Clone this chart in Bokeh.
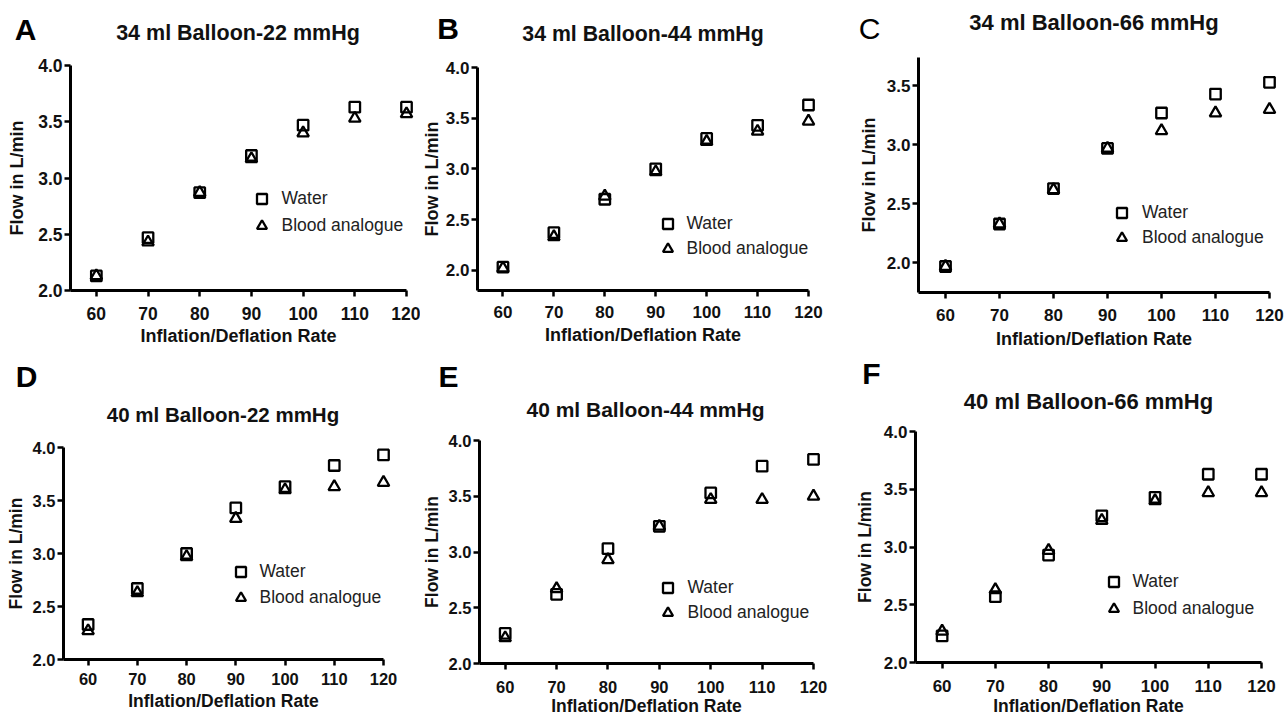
from bokeh.plotting import figure
from bokeh.layouts import row, column
from bokeh.models import Range1d, FixedTicker, PrintfTickFormatter, Label, Legend, LegendItem
from bokeh.embed import file_html
from bokeh.resources import INLINE

# ---------------- data ----------------
rates = [60, 70, 80, 90, 100, 110, 120]
x_ticks = [60, 70, 80, 90, 100, 110, 120]

titles = ["34 ml Balloon-22 mmHg", "34 ml Balloon-44 mmHg", "34 ml Balloon-66 mmHg",
          "40 ml Balloon-22 mmHg", "40 ml Balloon-44 mmHg", "40 ml Balloon-66 mmHg"]
letters = ["A", "B", "C", "D", "E", "F"]
series_names = ["Water", "Blood analogue"]
x_title = "Inflation/Deflation Rate"
y_title = "Flow in L/min"

A_water = [2.13, 2.47, 2.87, 3.20, 3.47, 3.63, 3.63]
A_blood = [2.13, 2.43, 2.87, 3.17, 3.40, 3.53, 3.57]
B_water = [2.03, 2.37, 2.70, 3.00, 3.30, 3.43, 3.63]
B_blood = [2.02, 2.33, 2.73, 2.97, 3.27, 3.37, 3.47]
C_water = [1.97, 2.33, 2.63, 2.97, 3.27, 3.43, 3.53]
C_blood = [1.97, 2.33, 2.62, 2.97, 3.12, 3.27, 3.30]
D_water = [2.33, 2.67, 3.00, 3.43, 3.63, 3.83, 3.93]
D_blood = [2.27, 2.63, 2.97, 3.33, 3.60, 3.63, 3.67]
E_water = [2.27, 2.62, 3.03, 3.23, 3.53, 3.77, 3.83]
E_blood = [2.23, 2.67, 2.93, 3.23, 3.47, 3.47, 3.50]
F_water = [2.23, 2.57, 2.93, 3.27, 3.43, 3.63, 3.63]
F_blood = [2.27, 2.63, 2.97, 3.23, 3.40, 3.47, 3.47]

y_ticks_A = [2.0, 2.5, 3.0, 3.5, 4.0]
y_ticks_B = [2.0, 2.5, 3.0, 3.5, 4.0]
y_ticks_C = [2.0, 2.5, 3.0, 3.5]
y_ticks_D = [2.0, 2.5, 3.0, 3.5, 4.0]
y_ticks_E = [2.0, 2.5, 3.0, 3.5, 4.0]
y_ticks_F = [2.0, 2.5, 3.0, 3.5, 4.0]

waters = [A_water, B_water, C_water, D_water, E_water, F_water]
bloods = [A_blood, B_blood, C_blood, D_blood, E_blood, F_blood]
yticks = [y_ticks_A, y_ticks_B, y_ticks_C, y_ticks_D, y_ticks_E, y_ticks_F]

# ---------------- layout / style ----------------
FONT = "Liberation Sans"
X0, X1 = 55, 120                       # extent of the drawn x axis
y_axis_ext = [(2.0, 4.0), (1.8, 4.0), (1.75, 3.74), (2.0, 4.0), (2.0, 4.0), (2.0, 4.0)]
cols = [(0, 420), (420, 855), (855, 1286)]
rows_px = [(0, 352), (352, 714)]
# axes in page pixels: x of y-axis (x=55), x of 120, y of axis top, y of x-axis
frames = [(70, 406, 65, 290), (477, 808, 67, 290), (918, 1269, 57, 292),
          (63, 383, 447, 659), (479, 813, 440, 663), (915, 1261, 431, 662)]
ylab_standoff = [8, 1, 5, 4, 4, 6]
xtick_standoff = [10, 9, 10, 7, 11, 11]
xlab_standoff = [3, 4, 5, 3, 0, 1]
tick_font = ["17.5px", "17px", "17px", "16.5px", "16.5px", "17px"]
axis_font = ["18px", "18px", "18px", "17.5px", "17.5px", "17.5px"]
title_font = ["21.5px", "21.3px", "22px", "20.5px", "21px", "22px"]
title_px = [(237.5, 32), (642.5, 33), (1093.5, 22), (222.5, 414), (645, 409), (1088, 401)]
letter_px = [(25, 29), (447.5, 27.5), (869, 28), (26, 376), (448, 376), (871, 373)]
letter_style = ["bold", "bold", "normal", "bold", "bold", "bold"]
legend_sq = [(261, 197), (667, 222.5), (1121.5, 211.5), (240, 570), (667, 586.5), (1113, 580)]
legend_spacing = [2, 0, 0, 1, 0, 2]
legend_standoff = [8, 7, 8, 7, 8, 7]
GLYPH = 25

figs = []
for i in range(6):
    c0, c1 = cols[i % 3]
    r0, r1 = rows_px[i // 3]
    L, X120, T, B = frames[i]
    ya0, ya1 = y_axis_ext[i]
    k = (X120 - L) / (X1 - X0)          # px per x unit
    u = (ya1 - ya0) / (B - T)           # y units per px
    xs, xe = X0 - (L - c0) / k, X1 + (c1 - X120) / k
    ys, ye = ya0 - (r1 - B) * u, ya1 + (T - r0) * u

    def xd(px):
        return xs + (px - c0) / k

    def yd(py):
        return ys + (r1 - py) * u

    p = figure(width=c1 - c0, height=r1 - r0, output_backend="svg", toolbar_location=None,
               x_range=Range1d(xs, xe), y_range=Range1d(ys, ye),
               min_border_left=0, min_border_right=0, min_border_top=0, min_border_bottom=0)
    p.outline_line_color = None
    p.xgrid.visible = False
    p.ygrid.visible = False
    p.background_fill_color = "white"
    p.border_fill_color = "white"

    for ax in (p.xaxis[0], p.yaxis[0]):
        ax.axis_line_width = 3
        ax.axis_line_color = "black"
        ax.major_tick_line_width = 2.5
        ax.major_tick_line_color = "black"
        ax.major_tick_in = 0
        ax.major_tick_out = 6
        ax.minor_tick_line_color = None
        ax.major_label_text_font = FONT
        ax.major_label_text_font_style = "bold"
        ax.major_label_text_font_size = tick_font[i]
        ax.major_label_text_color = "#111111"
        ax.axis_label_text_font = FONT
        ax.axis_label_text_font_style = "bold"
        ax.axis_label_text_font_size = axis_font[i]
        ax.axis_label_text_color = "#111111"
    p.xaxis.fixed_location = ya0
    p.yaxis.fixed_location = X0
    p.xaxis.bounds = (X0, X1)
    p.yaxis.bounds = (ya0, ya1)
    p.xaxis.major_label_standoff = xtick_standoff[i]
    p.yaxis.major_label_standoff = 2

    p.xaxis.ticker = FixedTicker(ticks=x_ticks)
    p.xaxis.formatter = PrintfTickFormatter(format="%d")
    p.yaxis.ticker = FixedTicker(ticks=yticks[i])
    p.yaxis.formatter = PrintfTickFormatter(format="%.1f")
    p.xaxis.axis_label = x_title
    p.yaxis.axis_label = y_title
    p.xaxis.axis_label_standoff = xlab_standoff[i]
    p.yaxis.axis_label_standoff = ylab_standoff[i]

    r_w = p.scatter(rates, waters[i], marker="square", size=10.5, fill_color=None,
                    line_color="black", line_width=2.3)
    r_b = p.scatter(rates, bloods[i], marker="triangle", size=11.5, fill_color=None,
                    line_color="black", line_width=2.3)

    sqx, sqy = legend_sq[i]
    sp = legend_spacing[i]
    leg = Legend(items=[LegendItem(label=series_names[0], renderers=[r_w]),
                        LegendItem(label=series_names[1], renderers=[r_b])],
                 location=(sqx - c0 - GLYPH / 2, r1 - sqy - (GLYPH * 1.5 + 1) - sp),
                 glyph_width=GLYPH, glyph_height=GLYPH,
                 label_height=GLYPH, label_standoff=legend_standoff[i],
                 spacing=sp, padding=0, margin=0,
                 border_line_color=None, background_fill_alpha=0,
                 label_text_font=FONT, label_text_font_size="17.5px",
                 label_text_color="#222222")
    p.add_layout(leg)

    tx, ty = title_px[i]
    p.add_layout(Label(x=xd(tx), y=yd(ty), text=titles[i], text_align="center",
                       text_baseline="middle", text_font=FONT, text_font_style="bold",
                       text_font_size=title_font[i], text_color="#111111"))
    lx, ly = letter_px[i]
    p.add_layout(Label(x=xd(lx), y=yd(ly), text=letters[i], text_align="center",
                       text_baseline="middle", text_font=FONT,
                       text_font_style=letter_style[i], text_font_size="30px",
                       text_color="black"))
    figs.append(p)

layout = column(row(figs[0], figs[1], figs[2]), row(figs[3], figs[4], figs[5]))

open("out.html", "w").write(file_html(layout, INLINE))
